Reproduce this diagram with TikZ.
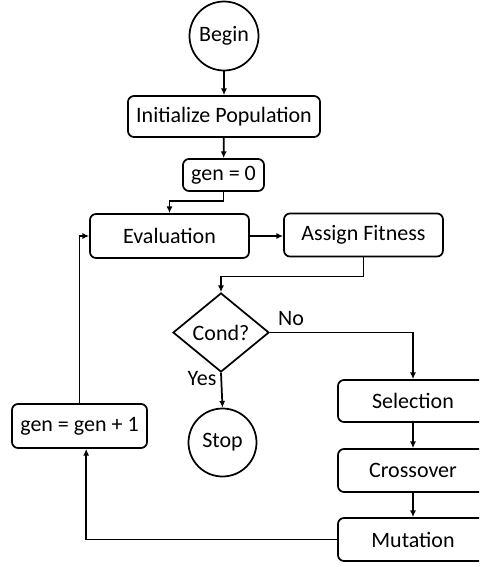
\documentclass[tikz,border=0pt]{standalone}
\usepackage{fontspec}
\setmainfont{Carlito}
\usetikzlibrary{shapes.geometric,arrows.meta}

\tikzset{
  stepbox/.style={draw, rounded corners=4.5pt, inner sep=0pt},
  endpoint/.style={draw, circle, inner sep=0pt},
  decision/.style={draw, diamond, inner sep=0pt},
}

\begin{document}
\begin{tikzpicture}[x=0.75pt, y=-0.75pt, line width=1.3pt,
    >={Latex[length=5pt,width=4.5pt]},
    font=\fontsize{16.5}{19.8}\selectfont]
            \clip (0,0) rectangle (479,567);
            % top of the loop
            \node[endpoint, minimum size=51.75pt] (begin) at (224,36) {Begin};
            \node[stepbox, minimum width=144pt, minimum height=30.75pt] (init) at (224,116.5) {Initialize Population};
            \node[stepbox, minimum width=60.75pt, minimum height=24pt] (gen0) at (223.5,175) {gen = 0};
            \node[stepbox, minimum width=119.25pt, minimum height=33pt] (eval) at (169.5,236) {Evaluation};
            \node[stepbox, minimum width=119.25pt, minimum height=32.25pt] (assign) at (363.5,235) {Assign Fitness};
            \node[decision, minimum width=72pt, minimum height=59.25pt] (cond) at (221,332.5) {Cond?};
            \node[endpoint, minimum size=51pt] (stop) at (222.5,442.5) {Stop};
            \node[stepbox, minimum width=101.25pt, minimum height=33pt] (gen1) at (79.5,426) {gen = gen + 1};
            % operators on the right
            \node[stepbox, minimum width=112.5pt, minimum height=31.5pt] (sel) at (413,401) {Selection};
            \node[stepbox, minimum width=112.5pt, minimum height=32.25pt] (cross) at (413,470.5) {Crossover};
            \node[stepbox, minimum width=112.5pt, minimum height=32.25pt] (mut) at (413,539.5) {Mutation};
            \node (no) at (291,319) {No};
            \node (yes) at (202,379) {Yes};
            % connectors
            \draw [->] (begin) -- (init);
            \draw [->] (init) -- (gen0);
            \draw [->] (gen0.south) -- ++(0,9) -| (eval.north);
            \draw [->] (eval.east) -- (eval.east -| assign.west);
            \draw [->] (assign.south) -- ++(0,19) -| (cond.north);
            \draw [->] (cond.east) -| (sel.north);
            \draw [->] (cond.south) -- (stop.north);
            \draw [->] (sel) -- (cross);
            \draw [->] (cross) -- (mut);
            \draw [->] (mut.west) -| ([xshift=5pt]gen1.south);
            \draw [->] (gen1.north) |- (eval.west);
        \end{tikzpicture}
\end{document}
